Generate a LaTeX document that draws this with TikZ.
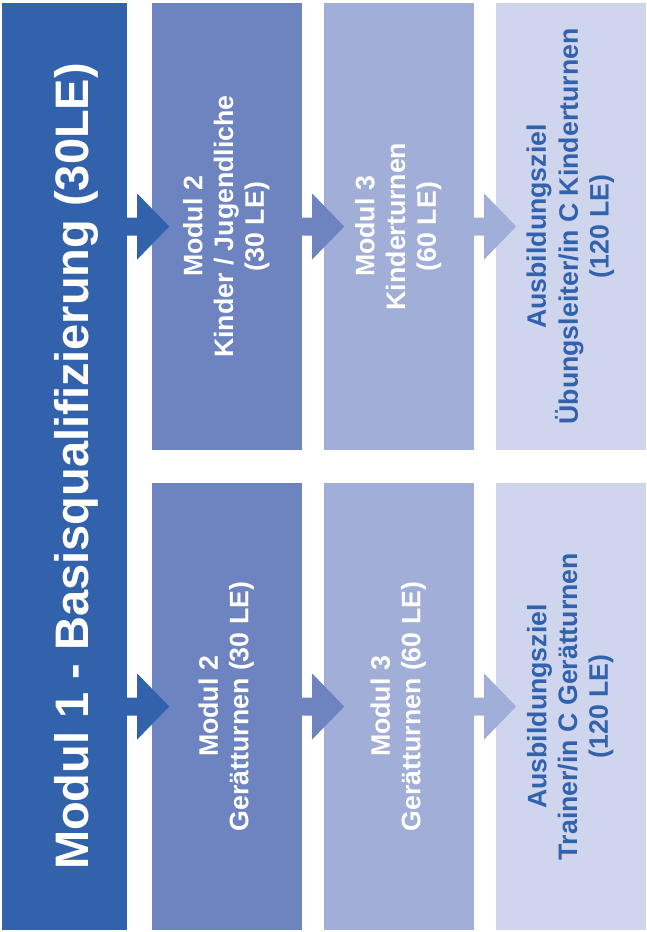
\documentclass[tikz,border=0pt]{standalone}
\usepackage{fontspec}
\setmainfont{Liberation Sans}
\usepackage{graphicx}
\definecolor{blauA}{HTML}{3362AD}
\definecolor{blauB}{HTML}{6D84C1}
\definecolor{blauC}{HTML}{A0AED8}
\definecolor{blauD}{HTML}{D0D5EE}
\tikzstyle{modulbox}=[rectangle,inner sep=0pt,
                      minimum width=150pt,minimum height=447pt,
                      text=white,font=\bfseries\fontsize{26.7}{30.7}\selectfont]
\tikzstyle{zielbox}=[modulbox,fill=blauD,text=blauA]
\tikzstyle{titel}=[inner sep=0pt,text=white,
                   font=\bfseries\fontsize{47}{54}\selectfont]
\newcommand{\hochkant}[1]{\rotatebox{90}{\begin{tabular}{@{}c@{}}#1\end{tabular}}}

\begin{document}
\begin{tikzpicture}[x=1pt,y=-1pt]
    \newcommand{\pfeil}[3]{%
      \fill[#1] (#2.east |- #3.center) ++(0,-9) -- ++(10,0) -- ++(0,-24)
        -- ++(32,33) -- ++(-32,33) -- ++(0,-24) -- ++(-10,0) -- cycle;}
    \useasboundingbox (0,0) rectangle (646,932);
    % Basisqualifizierung
    \node (m1) at (64.5,466.5) [rectangle,fill=blauA,inner sep=0pt,
          minimum width=125pt,minimum height=927pt]{};
    \node (m1t) at (76,466.5) [titel]{\rotatebox{90}{Modul 1 - Basisqualifizierung (30LE)}};
    % Kinderturnen
    \node (k2) at (227,226.5) [modulbox,fill=blauB]
          {\hochkant{Modul 2\\Kinder / Jugendliche\\(30 LE)}};
    \node (k3) at (399,226.5) [modulbox,fill=blauC]
          {\hochkant{Modul 3\\Kinderturnen\\(60 LE)}};
    \node (k4) at (571,226.5) [zielbox]
          {\hochkant{Ausbildungsziel\\Übungsleiter/in C Kinderturnen\\(120 LE)}};
    % Geraetturnen
    \node (g2) at (227,706.5) [modulbox,fill=blauB]
          {\hochkant{Modul 2\\Gerätturnen (30 LE)}};
    \node (g3) at (399,706.5) [modulbox,fill=blauC]
          {\hochkant{Modul 3\\Gerätturnen (60 LE)}};
    \node (g4) at (571,706.5) [zielbox]
          {\hochkant{Ausbildungsziel\\Trainer/in C Gerätturnen\\(120 LE)}};
    \pfeil{blauA}{m1}{k2}
    \pfeil{blauB}{k2}{k3}
    \pfeil{blauC}{k3}{k4}
    \pfeil{blauA}{m1}{g2}
    \pfeil{blauB}{g2}{g3}
    \pfeil{blauC}{g3}{g4}
  \end{tikzpicture}
\end{document}
